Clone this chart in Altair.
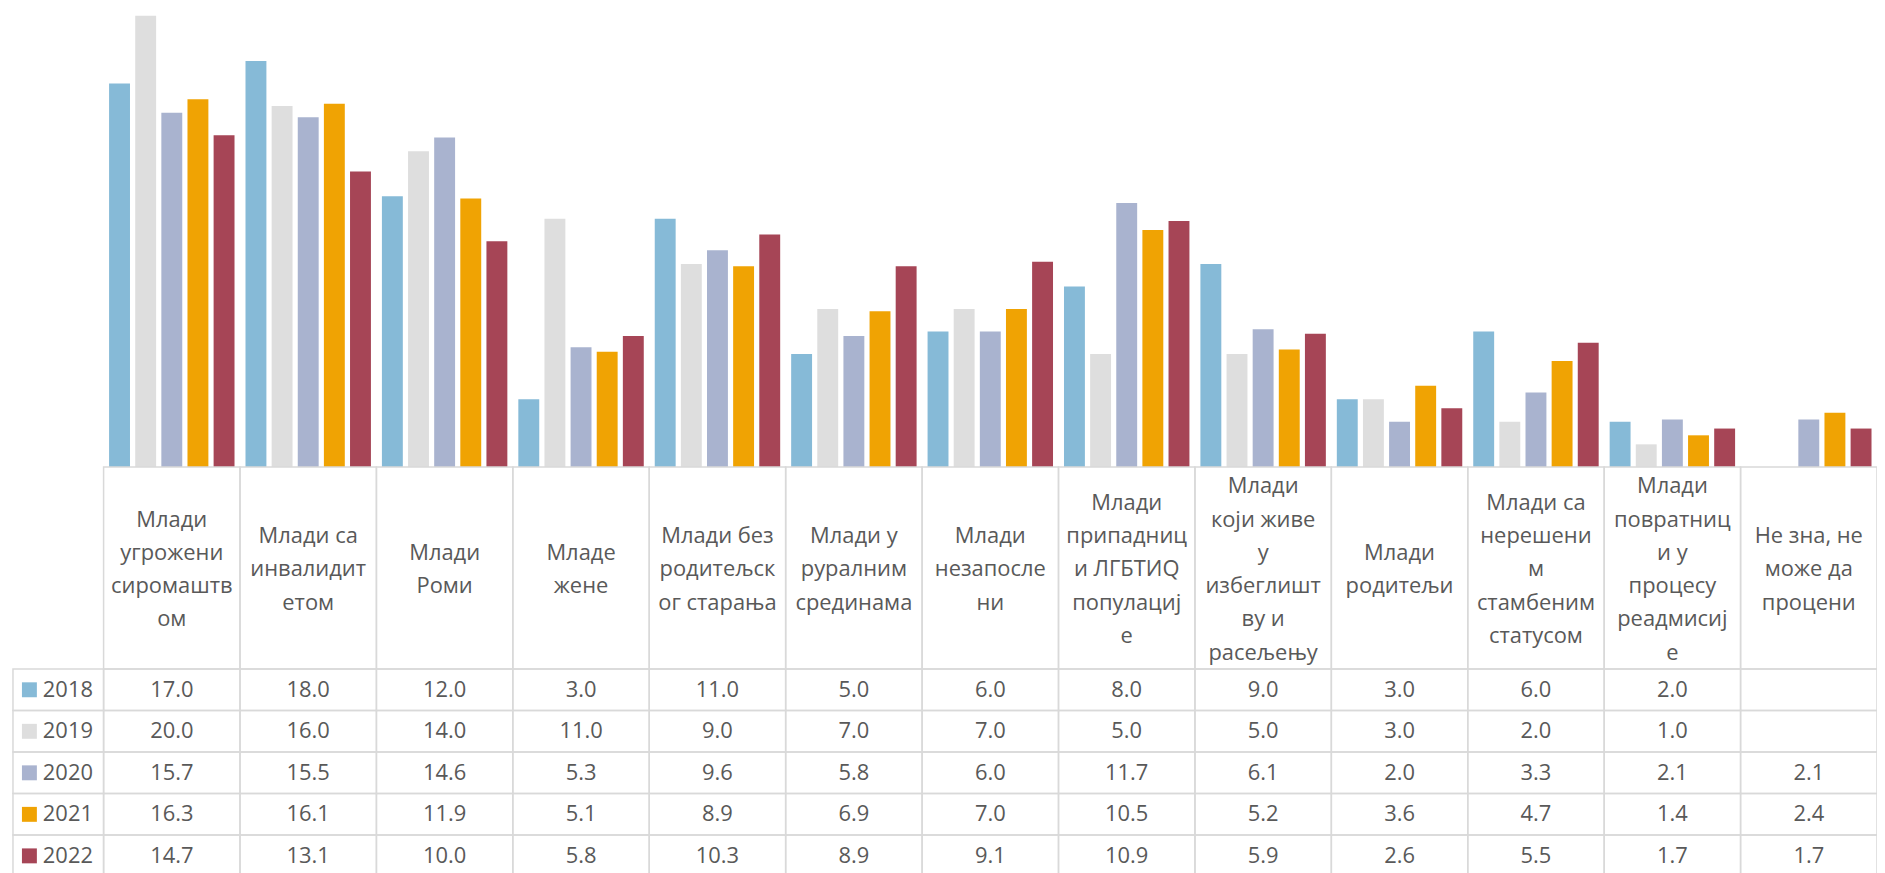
import altair as alt
import pandas as pd

# ---- data ----
categories = [
    "Млади угрожени сиромаштвом", "Млади са инвалидитетом", "Млади Роми", "Младе жене",
    "Млади без родитељског старања", "Млади у руралним срединама", "Млади незапослени",
    "Млади припадници ЛГБТИQ популације", "Млади који живе у избеглиштву и расељењу",
    "Млади родитељи", "Млади са нерешеним стамбеним статусом",
    "Млади повратници у процесу реадмисије", "Не зна, не може да процени",
]
# category labels as wrapped in the table header
header_labels = [
    "Млади\nугрожени\nсиромаштв\nом",
    "Млади са\nинвалидит\nетом",
    "Млади\nРоми",
    "Младе\nжене",
    "Млади без\nродитељск\nог старања",
    "Млади у\nруралним\nсрединама",
    "Млади\nнезапосле\nни",
    "Млади\nприпадниц\nи ЛГБТИQ\nпопулациј\nе",
    "Млади\nкоји живе\nу\nизбеглишт\nву и\nрасељењу",
    "Млади\nродитељи",
    "Млади са\nнерешени\nм\nстамбеним\nстатусом",
    "Млади\nповратниц\nи у\nпроцесу\nреадмисиј\nе",
    "Не зна, не\nможе да\nпроцени",
]
years = ["2018", "2019", "2020", "2021", "2022"]
v2018 = [17.0, 18.0, 12.0, 3.0, 11.0, 5.0, 6.0, 8.0, 9.0, 3.0, 6.0, 2.0, None]
v2019 = [20.0, 16.0, 14.0, 11.0, 9.0, 7.0, 7.0, 5.0, 5.0, 3.0, 2.0, 1.0, None]
v2020 = [15.7, 15.5, 14.6, 5.3, 9.6, 5.8, 6.0, 11.7, 6.1, 2.0, 3.3, 2.1, 2.1]
v2021 = [16.3, 16.1, 11.9, 5.1, 8.9, 6.9, 7.0, 10.5, 5.2, 3.6, 4.7, 1.4, 2.4]
v2022 = [14.7, 13.1, 10.0, 5.8, 10.3, 8.9, 9.1, 10.9, 5.9, 2.6, 5.5, 1.7, 1.7]
series = {"2018": v2018, "2019": v2019, "2020": v2020, "2021": v2021, "2022": v2022}
colors = ["#86BAD7", "#DEDEDE", "#A9B3CF", "#F0A303", "#A64556"]

rows = []
for y in years:
    for c, v in zip(categories, series[y]):
        rows.append({"cat": c, "year": y, "value": v})
df = pd.DataFrame(rows)
vals = df.dropna().copy()
hdr = pd.DataFrame({
    "cat": categories,
    "label": header_labels,
    "nlines": [len(s.split("\n")) for s in header_labels],
})
yr = pd.DataFrame({"year": years})

# ---- layout ----
W, H = 1877, 865
X0, COL = 96, 137
BASE, TOP = 459, 6
ROW0, ROWH = 662, 41.7
LH = 33.4
HC = 562  # vertical centre of the header row
FONT = "Open Sans"
TXT = "#595959"
GRID = "#D9D9D9"

xs = alt.Scale(domain=categories, range=[X0, X0 + COL * len(categories)], paddingInner=0, paddingOuter=0)
xo = alt.Scale(domain=years, paddingInner=0.2, paddingOuter=0.21)
ys_bar = alt.Scale(domain=[0, 20], range=[BASE, TOP])
ys_row = alt.Scale(domain=years, range=[ROW0, ROW0 + ROWH * len(years)], paddingInner=0, paddingOuter=0)
# first line of a wrapped header block moves up by half a line per extra line
ys_hdr = alt.Scale(domain=[1, 6], range=[HC, HC - 5 * LH / 2])
cs = alt.Scale(domain=years, range=colors)

X = alt.X("cat:N", scale=xs, axis=None, sort=None)
YR = alt.Y("year:N", scale=ys_row, axis=None, sort=None)

bars = alt.Chart(df.dropna()).mark_bar().encode(
    x=X,
    xOffset=alt.XOffset("year:N", scale=xo),
    y=alt.Y("value:Q", scale=ys_bar, axis=None),
    color=alt.Color("year:N", scale=cs, legend=None),
)

cells = alt.Chart(df).mark_rect(fillOpacity=0, stroke=GRID, strokeWidth=1.5).encode(
    x=X, y=YR
)
hcells = alt.Chart(hdr).mark_rect(fillOpacity=0, stroke=GRID, strokeWidth=1.5).encode(
    x=X, y=alt.value(BASE), y2=alt.value(ROW0)
)
lcells = alt.Chart(yr).mark_rect(fillOpacity=0, stroke=GRID, strokeWidth=1.5).encode(
    x=alt.value(5), x2=alt.value(X0), y=YR
)

htext = alt.Chart(hdr).mark_text(
    font=FONT, fontSize=22, color=TXT, lineBreak="\n", lineHeight=LH,
    align="center", baseline="middle",
).encode(x=X, y=alt.Y("nlines:Q", scale=ys_hdr, axis=None), text="label:N")

vtext = alt.Chart(vals).mark_text(
    font=FONT, fontSize=22, color=TXT, align="center", baseline="middle",
).encode(x=X, y=YR, text=alt.Text("value:Q", format=".1f"))

lsq = alt.Chart(yr).mark_square(size=225, opacity=1).encode(
    x=alt.value(21.5), y=YR, color=alt.Color("year:N", scale=cs, legend=None)
)
ltext = alt.Chart(yr).mark_text(
    font=FONT, fontSize=22, color=TXT, align="left", baseline="middle",
).encode(x=alt.value(35), y=YR, text="year:N")

chart = alt.layer(
    bars, hcells, cells, lcells, htext, vtext, lsq, ltext
).resolve_scale(y="independent").properties(
    width=W, height=H, padding=0, autosize=alt.AutoSizeParams(type="none")
).configure_view(stroke=None)

chart.save("out.html", embed_options={"renderer": "svg", "actions": False})
